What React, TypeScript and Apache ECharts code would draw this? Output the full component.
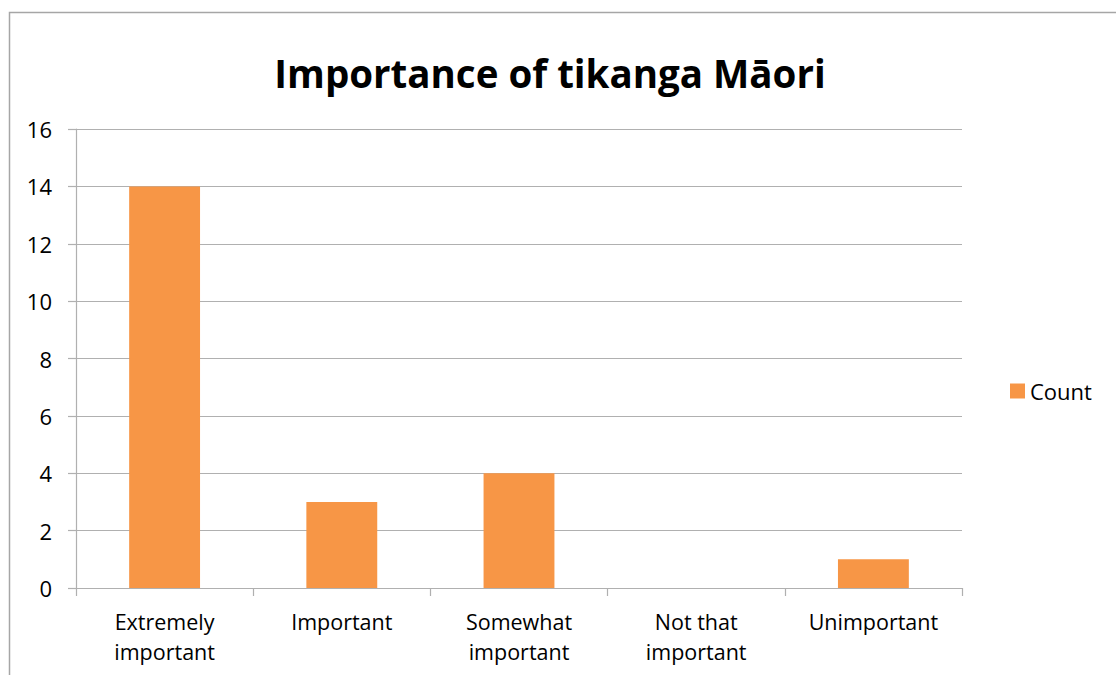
import React, { useEffect, useRef } from "react";
import * as echarts from "echarts";

const categories = ["Extremely\nimportant", "Important", "Somewhat\nimportant", "Not that\nimportant", "Unimportant"];
const counts = [14, 3, 4, 0, 1];
const yTicks = { min: 0, max: 16, interval: 2 };
const seriesName = "Count";
const titleText = "Importance of tikanga Māori";

export default function App() {
  const ref = useRef<HTMLDivElement>(null);
  useEffect(() => {
    document.body.style.margin = "0";
    const chart = echarts.init(ref.current!, null, { renderer: "svg" });
    const font = "'Open Sans', sans-serif";
    chart.setOption({
      animation: false,
      backgroundColor: "#ffffff",
      textStyle: { fontFamily: font },
      title: {
        text: titleText,
        left: 545,
        textAlign: "center",
        top: 48,
        textStyle: { fontFamily: font, fontSize: 38.5, fontWeight: "bold", color: "#000" },
      },
      graphic: [
        {
          type: "rect",
          shape: { x: 9.5, y: 12.5, width: 1300, height: 900 },
          style: { fill: "none", stroke: "#a6a6a6", lineWidth: 1.5 },
          silent: true,
        },
      ],
      legend: {
        data: [seriesName],
        left: 1010,
        top: 380,
        padding: 0,
        itemWidth: 15,
        itemHeight: 15,
        icon: "rect",
        itemGap: 6,
        textStyle: { fontFamily: font, fontSize: 22, color: "#000", padding: [0, 0, 0, 0] },
      },
      grid: { left: 76, right: 154, top: 129, bottom: 87, containLabel: false },
      xAxis: {
        type: "category",
        data: categories,
        axisLine: { lineStyle: { color: "#b0b0b0", width: 1.2 } },
        axisTick: { show: true, length: 8, interval: 0, lineStyle: { color: "#b0b0b0", width: 1.2 } },
        axisLabel: {
          interval: 0,
          margin: 19,
          fontFamily: font,
          fontSize: 21.5,
          lineHeight: 29.5,
          color: "#000",
        },
      },
      yAxis: {
        type: "value",
        min: yTicks.min,
        max: yTicks.max,
        interval: yTicks.interval,
        axisLine: { show: true, lineStyle: { color: "#b0b0b0", width: 1.2 } },
        axisTick: { show: true, length: 8, lineStyle: { color: "#b0b0b0", width: 1.2 } },
        splitLine: { show: true, lineStyle: { color: "#b0b0b0", width: 1.2 } },
        axisLabel: { fontFamily: font, fontSize: 22, color: "#000", margin: 24 },
      },
      series: [
        {
          name: seriesName,
          type: "bar",
          data: counts,
          barWidth: "40%",
          itemStyle: { color: "#F79646" },
        },
      ],
    });
    return () => chart.dispose();
  }, []);
  return <div ref={ref} style={{ width: 1116, height: 675 }} />;
}
